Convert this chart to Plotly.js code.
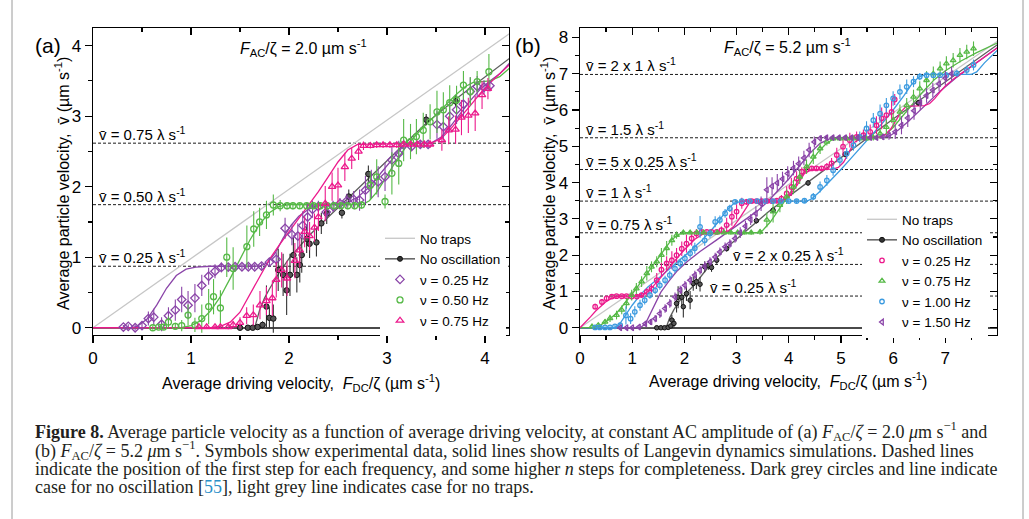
<!DOCTYPE html>
<html><head><meta charset="utf-8">
<script src="https://cdn.plot.ly/plotly-3.0.1.min.js"></script>
<style>html,body{margin:0;padding:0;background:#fff;}#chart{width:1029px;height:519px;}</style>
</head><body><div id="chart"></div>
<script>
// ---------- Panel (a): F_AC/zeta = 2.0 um/s ----------
const aStepLevels = [0.872, 1.745, 2.617];
const aStepLabels = ['0.25', '0.50', '0.75'];
const aNoTraps = [[0, 0], [4.25, 4.17]];
const aSimNoOsc = [[0,0],[1.65,0],[1.70,0.25],[1.75,0.42],[1.80,0.55],[1.90,0.78],[2.00,0.98],[2.20,1.30],[2.50,1.70],[2.80,2.10],[3.00,2.38],[3.40,2.90],[3.70,3.24],[4.00,3.55],[4.25,3.82]];
const aSim025 = [[0,0],[0.40,0],[0.45,0.02],[0.55,0.12],[0.65,0.32],[0.75,0.56],[0.85,0.74],[0.95,0.83],[1.05,0.86],[1.20,0.872],[1.70,0.875],[1.78,0.92],[1.86,1.06],[1.94,1.27],[2.02,1.45],[2.10,1.58],[2.20,1.68],[2.30,1.73],[2.45,1.75],[2.60,1.78],[2.70,1.85],[2.80,1.97],[2.90,2.13],[3.00,2.30],[3.10,2.48],[3.18,2.60],[3.45,2.62],[3.55,2.70],[3.65,2.86],[3.75,3.04],[3.85,3.22],[3.95,3.38],[4.05,3.50],[4.15,3.60],[4.25,3.75]];
const aSim050 = [[0,0],[0.90,0],[1.00,0.03],[1.10,0.10],[1.20,0.24],[1.30,0.44],[1.40,0.70],[1.50,0.97],[1.60,1.24],[1.70,1.47],[1.80,1.63],[1.90,1.72],[2.00,1.745],[2.75,1.745],[2.82,1.80],[2.90,1.93],[3.00,2.15],[3.10,2.38],[3.20,2.58],[3.30,2.74],[3.40,2.88],[3.50,3.02],[3.60,3.16],[3.70,3.30],[3.80,3.42],[3.88,3.48],[4.05,3.50],[4.15,3.56],[4.25,3.68]];
const aSim075 = [[0,0],[1.20,0],[1.30,0.02],[1.40,0.08],[1.50,0.22],[1.60,0.47],[1.70,0.74],[1.80,0.97],[1.90,1.17],[2.00,1.36],[2.10,1.54],[2.20,1.73],[2.30,1.93],[2.40,2.14],[2.50,2.35],[2.60,2.52],[2.70,2.60],[3.45,2.617],[3.55,2.68],[3.65,2.82],[3.75,2.98],[3.85,3.15],[3.95,3.32],[4.05,3.47],[4.15,3.60],[4.25,3.73]];
// experimental points [x, y, error]
const aDataNoOsc = [[1.50,0.0,0.02],[1.58,0.0,0.02],[1.63,0.0,0.02],[1.68,0.01,0.02],[1.73,0.04,0.05],[1.77,0.30,0.3],[1.80,0.14,0.15],[1.84,0.13,0.2],[1.89,0.82,0.3],[1.94,0.75,0.3],[1.976,0.53,0.35],[2.01,0.75,0.3],[2.045,1.03,0.25],[2.08,0.75,0.25],[2.11,0.89,0.25],[2.13,1.03,0.25],[2.18,1.26,0.2],[2.21,1.19,0.2],[2.28,1.21,0.2],[2.33,1.48,0.15],[2.385,1.62,0.15],[2.54,1.63,0.08],[2.61,1.86,0.1],[2.81,2.18,0.12],[3.40,2.95,0.08],[3.70,3.21,0.08]];
const aData025 = [[0.31,0.01,0.03],[0.36,0.02,0.03],[0.43,0.0,0.04],[0.50,0.03,0.05],[0.565,0.13,0.1],[0.62,0.15,0.12],[0.70,0.05,0.1],[0.77,0.17,0.12],[0.84,0.25,0.15],[0.905,0.40,0.18],[0.97,0.32,0.2],[1.04,0.42,0.2],[1.11,0.60,0.15],[1.18,0.73,0.12],[1.245,0.80,0.1],[1.31,0.855,0.07],[1.38,0.86,0.05],[1.45,0.865,0.04],[1.52,0.865,0.04],[1.585,0.865,0.04],[1.65,0.865,0.04],[1.72,0.875,0.04],[1.80,0.93,0.06],[1.87,0.97,0.1],[1.96,1.41,0.15],[2.03,1.32,0.15],[2.09,1.30,0.18],[2.14,1.45,0.2],[2.19,1.57,0.2],[2.24,1.68,0.12],[2.30,1.72,0.08],[2.38,1.64,0.1],[2.45,1.72,0.08],[2.52,1.76,0.08],[2.59,1.80,0.1],[2.66,1.82,0.12],[2.72,1.81,0.15],[2.78,1.95,0.2],[2.84,2.04,0.2],[2.91,2.07,0.22],[2.98,2.14,0.2],[3.05,2.38,0.2],[3.12,2.47,0.18],[3.17,2.59,0.08],[3.25,2.57,0.06],[3.34,2.60,0.05],[3.42,2.60,0.06],[3.51,2.88,0.2],[3.575,2.85,0.2],[3.64,3.0,0.22],[3.71,3.09,0.2],[3.78,3.17,0.2],[3.85,3.35,0.2],[3.92,3.42,0.15],[3.99,3.41,0.1],[4.05,3.43,0.08]];
const aData050 = [[0.61,0.0,0.03],[0.67,0.01,0.03],[0.72,0.01,0.04],[0.77,0.08,0.08],[0.84,0.02,0.05],[0.905,0.03,0.08],[0.97,0.18,0.15],[1.04,0.04,0.1],[1.11,0.13,0.2],[1.18,0.30,0.25],[1.23,0.44,0.25],[1.30,0.28,0.25],[1.365,1.0,0.28],[1.43,0.84,0.3],[1.57,1.15,0.3],[1.64,1.40,0.25],[1.70,1.50,0.2],[1.77,1.60,0.2],[1.84,1.74,0.15],[1.91,1.73,0.08],[1.98,1.73,0.05],[2.04,1.73,0.05],[2.11,1.73,0.04],[2.18,1.73,0.04],[2.25,1.73,0.04],[2.32,1.73,0.04],[2.39,1.73,0.04],[2.46,1.73,0.04],[2.53,1.73,0.04],[2.60,1.73,0.05],[2.67,1.73,0.05],[2.74,1.74,0.05],[2.83,2.02,0.2],[2.895,2.14,0.25],[2.98,1.79,0.1],[3.05,2.19,0.3],[3.12,2.33,0.3],[3.17,2.66,0.3],[3.24,2.64,0.25],[3.30,2.71,0.25],[3.37,2.80,0.25],[3.44,2.92,0.25],[3.51,3.06,0.3],[3.575,3.09,0.25],[3.64,3.19,0.25],[3.71,3.23,0.2],[3.78,3.44,0.2],[3.85,3.35,0.2],[3.92,3.49,0.15],[4.04,3.63,0.25]];
const aData075 = [[1.08,0.01,0.02],[1.16,0.01,0.02],[1.245,0.01,0.02],[1.30,0.01,0.02],[1.38,0.01,0.03],[1.43,0.04,0.05],[1.50,0.07,0.08],[1.568,0.17,0.12],[1.636,0.18,0.15],[1.704,0.32,0.2],[1.77,0.38,0.2],[1.83,0.42,0.25],[1.87,0.68,0.25],[1.925,0.82,0.25],[1.98,0.70,0.25],[2.06,0.95,0.25],[2.11,1.10,0.25],[2.16,1.36,0.22],[2.21,1.30,0.2],[2.26,1.42,0.2],[2.30,1.57,0.2],[2.37,1.76,0.25],[2.44,2.0,0.2],[2.50,2.02,0.25],[2.57,2.28,0.2],[2.64,2.40,0.15],[2.71,2.50,0.12],[2.76,2.58,0.06],[2.83,2.58,0.04],[2.895,2.59,0.04],[2.96,2.59,0.04],[3.03,2.59,0.04],[3.10,2.59,0.04],[3.17,2.60,0.04],[3.24,2.60,0.04],[3.31,2.60,0.04],[3.38,2.60,0.05],[3.44,2.60,0.05],[3.56,2.66,0.15],[3.63,2.80,0.2],[3.70,2.81,0.2],[3.76,2.98,0.25],[3.83,3.01,0.25],[3.90,3.04,0.25],[3.97,3.30,0.2],[4.03,3.39,0.15]];

// ---------- Panel (b): F_AC/zeta = 5.2 um/s ----------
const bStepLevels = [0.873, 1.745, 2.617, 3.49, 4.36, 5.235, 6.98];
const bStepLabels = ['0.25', '2 x 0.25', '0.75', '1', '5 x 0.25', '1.5', '2 x 1'];
const bNoTraps = [[0, 0], [8, 7.9]];
const bSimNoOsc = [[0,0],[1.65,0],[1.72,0.28],[1.80,0.50],[1.90,0.72],[2.00,0.90],[2.20,1.20],[2.50,1.75],[2.80,2.20],[3.20,2.70],[3.60,3.18],[4.00,3.62],[4.50,4.15],[5.00,4.70],[5.50,5.22],[6.00,5.75],[6.50,6.26],[7.00,6.78],[7.50,7.30],[8.00,7.80]];
const bSim025 = [[0,0],[0.10,0.14],[0.20,0.30],[0.30,0.46],[0.40,0.60],[0.50,0.72],[0.60,0.81],[0.70,0.86],[0.85,0.873],[1.10,0.873],[1.20,0.90],[1.30,1.00],[1.40,1.14],[1.50,1.30],[1.60,1.47],[1.80,1.82],[2.00,2.15],[2.20,2.44],[2.35,2.58],[2.50,2.62],[2.75,2.63],[2.85,2.68],[2.95,2.80],[3.05,3.00],[3.15,3.24],[3.25,3.45],[3.80,3.49],[3.90,3.52],[4.00,3.62],[4.10,3.80],[4.20,4.02],[4.30,4.25],[4.45,4.36],[4.85,4.37],[4.95,4.42],[5.05,4.56],[5.15,4.82],[5.25,5.10],[5.40,5.24],[5.75,5.26],[5.85,5.32],[5.95,5.47],[6.05,5.70],[6.15,5.95],[6.25,6.10],[6.60,6.12],[6.70,6.18],[6.80,6.32],[6.90,6.50],[7.00,6.66],[7.20,6.90],[7.50,7.20],[8.00,7.72]];
const bSim075 = [[0,0],[0.25,0.01],[0.40,0.08],[0.55,0.22],[0.70,0.40],[0.85,0.65],[1.00,0.93],[1.15,1.22],[1.30,1.52],[1.45,1.80],[1.60,2.12],[1.75,2.42],[1.90,2.58],[2.05,2.62],[3.40,2.62],[3.50,2.68],[3.65,2.92],[3.80,3.22],[3.95,3.55],[4.10,3.88],[4.25,4.20],[4.40,4.52],[4.55,4.82],[4.70,5.05],[4.85,5.20],[5.00,5.24],[5.70,5.24],[5.85,5.32],[6.00,5.52],[6.15,5.78],[6.30,6.05],[6.45,6.30],[6.60,6.55],[6.80,6.85],[7.00,7.08],[7.30,7.35],[7.60,7.58],[8.00,7.85]];
const bSim100 = [[0,0],[0.65,0],[0.75,0.08],[0.85,0.30],[1.00,0.62],[1.15,0.90],[1.30,1.12],[1.50,1.36],[1.70,1.60],[1.90,1.84],[2.10,2.10],[2.30,2.36],[2.50,2.66],[2.65,2.92],[2.80,3.22],[2.95,3.43],[3.10,3.49],[4.35,3.49],[4.45,3.56],[4.60,3.76],[4.80,4.05],[5.00,4.36],[5.20,4.68],[5.40,5.00],[5.60,5.32],[5.80,5.65],[6.00,6.00],[6.20,6.38],[6.35,6.70],[6.50,6.92],[6.65,6.98],[7.50,6.98],[7.60,7.05],[7.75,7.30],[8.00,7.65]];
const bSim150 = [[0,0],[1.15,0],[1.25,0.10],[1.35,0.40],[1.45,0.72],[1.55,0.98],[1.70,1.28],[1.85,1.55],[2.05,1.82],[2.30,2.10],[2.60,2.40],[2.90,2.70],[3.20,3.00],[3.40,3.22],[3.60,3.48],[3.80,3.78],[4.00,4.10],[4.20,4.45],[4.40,4.80],[4.60,5.08],[4.80,5.22],[5.00,5.24],[5.80,5.24],[5.95,5.30],[6.10,5.45],[6.30,5.70],[6.50,5.98],[6.70,6.25],[6.90,6.52],[7.20,6.88],[7.60,7.30],[8.00,7.72]];
const bDataNoOsc = [[1.47,0.0,0.02],[1.55,0.0,0.02],[1.62,0.0,0.02],[1.69,0.01,0.03],[1.74,0.05,0.06],[1.76,0.21,0.15],[1.80,0.12,0.12],[1.85,0.67,0.25],[1.88,0.84,0.3],[1.95,0.84,0.25],[1.98,0.58,0.3],[2.04,0.94,0.2],[2.11,0.76,0.25],[2.17,1.22,0.2],[2.23,1.27,0.2],[2.30,1.20,0.2],[2.39,1.68,0.15],[2.46,1.72,0.12],[2.52,1.66,0.12],[2.62,1.86,0.1],[2.81,2.18,0.08],[3.38,2.95,0.08],[3.70,3.24,0.08],[4.37,3.99,0.08],[5.08,4.78,0.08],[6.48,6.20,0.08]];
const bData025 = [[0.29,0.58,0.08],[0.42,0.71,0.08],[0.51,0.81,0.06],[0.61,0.86,0.05],[0.70,0.87,0.04],[0.80,0.87,0.04],[0.89,0.87,0.04],[0.99,0.86,0.04],[1.09,0.86,0.05],[1.18,0.90,0.06],[1.28,0.99,0.1],[1.37,1.08,0.12],[1.47,1.31,0.2],[1.56,1.60,0.2],[1.66,1.77,0.2],[1.76,1.86,0.25],[1.85,2.00,0.2],[1.95,2.18,0.2],[2.04,2.32,0.25],[2.14,2.46,0.2],[2.23,2.60,0.12],[2.33,2.64,0.06],[2.43,2.64,0.05],[2.52,2.64,0.05],[2.62,2.64,0.05],[2.71,2.69,0.1],[2.81,2.83,0.2],[2.91,3.06,0.25],[3.00,3.20,0.2],[3.10,3.43,0.15],[3.19,3.47,0.08],[3.29,3.49,0.05],[3.38,3.49,0.05],[3.48,3.49,0.05],[3.58,3.49,0.05],[3.67,3.49,0.05],[3.77,3.50,0.06],[3.86,3.56,0.1],[3.96,3.70,0.2],[4.05,3.88,0.25],[4.15,4.11,0.2],[4.25,4.30,0.12],[4.34,4.36,0.08],[4.44,4.39,0.06],[4.53,4.39,0.06],[4.63,4.39,0.06],[4.73,4.44,0.1],[4.82,4.53,0.15],[4.92,4.76,0.2],[5.04,4.99,0.25],[5.17,5.17,0.2],[5.30,5.26,0.15],[5.43,5.31,0.15],[5.56,5.40,0.2],[5.68,5.58,0.25],[5.78,5.77,0.3],[5.87,5.86,0.3],[5.97,5.95,0.3],[6.03,6.29,0.15]];
const bData075 = [[0.23,0.03,0.05],[0.35,0.07,0.06],[0.48,0.16,0.08],[0.575,0.26,0.1],[0.70,0.35,0.12],[0.80,0.49,0.12],[0.89,0.67,0.15],[0.99,0.90,0.15],[1.08,1.08,0.15],[1.18,1.27,0.15],[1.28,1.50,0.2],[1.37,1.68,0.15],[1.47,1.82,0.15],[1.56,2.00,0.2],[1.66,2.19,0.2],[1.76,2.41,0.15],[1.85,2.55,0.1],[1.98,2.62,0.06],[2.11,2.62,0.05],[2.24,2.62,0.05],[2.37,2.62,0.05],[2.50,2.62,0.05],[2.63,2.62,0.05],[2.76,2.62,0.05],[2.89,2.62,0.05],[3.02,2.62,0.05],[3.15,2.62,0.05],[3.28,2.62,0.06],[3.45,2.64,0.08],[3.58,2.97,0.2],[3.70,3.20,0.3],[3.83,3.38,0.2],[3.96,3.61,0.2],[4.09,3.88,0.2],[4.21,4.16,0.2],[4.34,4.44,0.2],[4.47,4.71,0.2],[4.60,4.94,0.15],[4.73,5.12,0.1],[4.85,5.21,0.06],[4.98,5.21,0.05],[5.11,5.21,0.05],[5.24,5.21,0.05],[5.36,5.21,0.05],[5.49,5.21,0.05],[5.62,5.24,0.08],[5.75,5.35,0.15],[5.87,5.53,0.2],[6.00,5.72,0.2],[6.13,5.95,0.2],[6.26,6.13,0.2],[6.39,6.36,0.2],[6.51,6.59,0.2],[6.64,6.82,0.25],[6.77,7.00,0.2],[6.90,7.14,0.2],[7.02,7.28,0.2],[7.15,7.37,0.2],[7.28,7.51,0.2],[7.41,7.60,0.2],[7.54,7.69,0.2]];
const bData100 = [[0.29,0.01,0.03],[0.38,0.01,0.03],[0.48,0.01,0.03],[0.575,0.01,0.03],[0.67,0.04,0.05],[0.77,0.07,0.08],[0.88,0.34,0.25],[0.97,0.25,0.15],[1.05,0.44,0.15],[1.15,0.62,0.15],[1.24,0.76,0.12],[1.34,0.90,0.1],[1.44,1.03,0.1],[1.53,1.17,0.12],[1.63,1.31,0.12],[1.72,1.45,0.12],[1.82,1.63,0.12],[1.92,1.77,0.12],[2.01,1.91,0.12],[2.11,2.05,0.12],[2.20,2.19,0.15],[2.30,2.78,0.3],[2.39,2.41,0.15],[2.49,2.60,0.12],[2.59,2.92,0.15],[2.68,2.97,0.12],[2.78,3.15,0.12],[2.87,3.29,0.1],[2.97,3.47,0.06],[3.10,3.49,0.05],[3.25,3.49,0.04],[3.40,3.49,0.04],[3.55,3.49,0.04],[3.70,3.49,0.04],[3.85,3.49,0.04],[4.00,3.49,0.05],[4.15,3.49,0.05],[4.30,3.50,0.06],[4.47,3.61,0.1],[4.60,3.88,0.15],[4.73,4.06,0.15],[4.85,4.34,0.15],[4.98,4.62,0.15],[5.11,4.80,0.15],[5.24,5.03,0.15],[5.36,5.26,0.15],[5.49,5.49,0.2],[5.62,5.72,0.2],[5.75,5.90,0.25],[5.87,6.13,0.2],[6.00,6.32,0.2],[6.13,6.50,0.2],[6.26,6.64,0.2],[6.39,6.78,0.15],[6.51,6.92,0.1],[6.64,6.96,0.06],[6.77,6.96,0.06],[6.90,6.96,0.06],[7.02,6.96,0.08],[7.22,7.01,0.1],[7.41,7.10,0.12],[7.54,7.24,0.15]];
const bData150 = [[0.77,0.0,0.02],[0.89,0.0,0.02],[1.00,0.0,0.02],[1.13,0.02,0.03],[1.25,0.11,0.06],[1.35,0.16,0.08],[1.44,0.25,0.1],[1.53,0.39,0.12],[1.63,0.53,0.12],[1.72,0.67,0.12],[1.82,0.85,0.12],[1.92,1.04,0.12],[2.01,1.17,0.12],[2.11,1.31,0.12],[2.20,1.45,0.12],[2.30,1.59,0.12],[2.39,1.70,0.12],[2.49,1.82,0.12],[2.59,1.95,0.12],[2.68,2.09,0.12],[2.78,2.23,0.12],[2.87,2.32,0.12],[2.97,2.46,0.12],[3.07,2.62,0.15],[3.17,2.80,0.15],[3.27,2.98,0.15],[3.37,3.15,0.2],[3.47,3.42,0.2],[3.58,3.80,0.35],[3.68,3.90,0.25],[3.78,3.99,0.25],[3.88,4.10,0.2],[3.98,4.25,0.2],[4.09,4.40,0.2],[4.19,4.52,0.2],[4.29,4.68,0.2],[4.39,4.90,0.2],[4.49,5.12,0.15],[4.60,5.22,0.08],[4.72,5.24,0.06],[4.84,5.24,0.06],[4.96,5.24,0.06],[5.08,5.24,0.06],[5.20,5.24,0.06],[5.32,5.24,0.06],[5.44,5.24,0.06],[5.56,5.24,0.06],[5.68,5.24,0.06],[5.80,5.26,0.08],[5.92,5.30,0.12],[6.04,5.40,0.2],[6.16,5.58,0.25],[6.28,5.78,0.25],[6.40,5.98,0.25],[6.52,6.20,0.2],[6.64,6.40,0.2],[6.76,6.55,0.2],[6.88,6.72,0.2],[7.00,6.88,0.2],[7.12,7.00,0.2]];

const tickValsA = [0, 1, 2, 3, 4];
const tickValsB = [0, 1, 2, 3, 4, 5, 6, 7, 8];

// ---------- styles ----------
const SANS = 'Liberation Sans, Arial, sans-serif';
const SERIF = 'Liberation Serif, Times New Roman, serif';
const C = {purple:'#8a44a8', green:'#56b947', pink:'#ec1a8c', blue:'#3c9be0', dark:'#333333', simDark:'#5e5e5e', noTraps:'#c6c6c6'};
const W = 1029, H = 519;
const px = v => v / W, py = v => 1 - v / H;

const col = (l, i) => l.map(p => p[i]);
function line(list, color, xa, ya, opts) {
  return Object.assign({type:'scatter', mode:'lines', x:col(list,0), y:col(list,1), xaxis:xa, yaxis:ya,
    line:{color:color, width:1.3}, showlegend:false, hoverinfo:'skip'}, opts || {});
}
function pointsTrace(list, color, symbol, size, xa, ya, name, lg, show) {
  return {type:'scatter', mode:'markers', x:col(list,0), y:col(list,1), xaxis:xa, yaxis:ya, name:name, legend:lg,
    showlegend:show, hoverinfo:'skip',
    error_y:{type:'data', array:col(list,2), visible:true, color:color, thickness:1.1, width:0},
    marker:{symbol:symbol, size:size, color:color, line:{color:color, width:1.3}}};
}
function stepLines(levels, xmax, xa, ya) {
  return levels.map(v => ({type:'scatter', mode:'lines', x:[0, xmax], y:[v, v], xaxis:xa, yaxis:ya,
    line:{color:'#1a1a1a', width:1, dash:'3px,2px'}, showlegend:false, hoverinfo:'skip'}));
}
function noOscLegend(lg) {
  return {type:'scatter', mode:'lines+markers', x:[null], y:[null], name:'No oscillation', legend:lg,
    line:{color:C.simDark, width:1.5}, marker:{symbol:'circle', size:5, color:C.dark, line:{color:'#111', width:1}}};
}

const traces = [].concat(
  stepLines(aStepLevels, 4.25, 'x', 'y'),
  [line(aNoTraps, C.noTraps, 'x', 'y', {showlegend:true, name:'No traps', legend:'legend'}),
   line(aSimNoOsc, C.simDark, 'x', 'y'),
   line(aSim025, C.purple, 'x', 'y'),
   line(aSim050, C.green, 'x', 'y'),
   line(aSim075, C.pink, 'x', 'y'),
   noOscLegend('legend'),
   Object.assign(pointsTrace(aDataNoOsc, C.dark, 'circle', 5.5, 'x', 'y', 'No oscillation data', 'legend', false),
     {marker:{symbol:'circle', size:5.5, color:'#555', line:{color:'#111', width:1}}}),
   pointsTrace(aData025, C.purple, 'diamond-open', 6.5, 'x', 'y', 'ν = 0.25 Hz', 'legend', true),
   pointsTrace(aData050, C.green, 'circle-open', 6, 'x', 'y', 'ν = 0.50 Hz', 'legend', true),
   pointsTrace(aData075, C.pink, 'triangle-up-open', 6.5, 'x', 'y', 'ν = 0.75 Hz', 'legend', true)],
  stepLines(bStepLevels, 8, 'x2', 'y2'),
  [line(bNoTraps, C.noTraps, 'x2', 'y2', {showlegend:true, name:'No traps', legend:'legend2'}),
   line(bSimNoOsc, C.simDark, 'x2', 'y2'),
   line(bSim150, C.purple, 'x2', 'y2'),
   line(bSim100, C.blue, 'x2', 'y2'),
   line(bSim075, C.green, 'x2', 'y2'),
   line(bSim025, C.pink, 'x2', 'y2'),
   noOscLegend('legend2'),
   Object.assign(pointsTrace(bDataNoOsc, C.dark, 'circle', 4.5, 'x2', 'y2', 'No oscillation data', 'legend2', false),
     {marker:{symbol:'circle', size:4.5, color:'#555', line:{color:'#111', width:1}}}),
   pointsTrace(bData025, C.pink, 'circle-open', 4.5, 'x2', 'y2', 'ν = 0.25 Hz', 'legend2', true),
   pointsTrace(bData075, C.green, 'triangle-up-open', 5, 'x2', 'y2', 'ν = 0.75 Hz', 'legend2', true),
   pointsTrace(bData100, C.blue, 'circle-open', 4.5, 'x2', 'y2', 'ν = 1.00 Hz', 'legend2', true),
   pointsTrace(bData150, C.purple, 'triangle-left-open', 5, 'x2', 'y2', 'ν = 1.50 Hz', 'legend2', true)],
  [{type:'scatter', x:[null], y:[null], xaxis:'x3', yaxis:'y3', showlegend:false, hoverinfo:'skip'},
   {type:'scatter', x:[null], y:[null], xaxis:'x4', yaxis:'y4', showlegend:false, hoverinfo:'skip'}]
);

const tickFont = {family:SANS, size:17, color:'#000'};
function mainAxis(domain, range, tv, isY) {
  return {domain:domain, range:range, autorange:false, fixedrange:true, showgrid:false,
    showline:true, linecolor:'#000', linewidth:1.3, mirror:true,
    ticks:'outside', ticklen:7, tickwidth:1.2, tickcolor:'#000', tickfont:tickFont,
    tickmode:'array', tickvals:tv, ticktext:tv.map(String),
    minor:{tickmode:'linear', tick0:0, dtick:0.5, ticks:'outside', ticklen:4, tickwidth:1.2, tickcolor:'#000', showgrid:false},
    zeroline:!!isY, zerolinecolor:'#4a4a4a', zerolinewidth:1.6};
}
function mirrorAxis(over, anchor, side, range) {
  return {overlaying:over, anchor:anchor, side:side, range:range, autorange:false, fixedrange:true,
    showgrid:false, showline:false, zeroline:false, showticklabels:false,
    ticks:'inside', ticklen:7, tickwidth:1.2, tickcolor:'#000', tickmode:'linear', tick0:0, dtick:1,
    minor:{tickmode:'linear', tick0:0, dtick:0.5, ticks:'inside', ticklen:4, tickwidth:1.2, tickcolor:'#000', showgrid:false}};
}
const yDom = [py(335), py(28)];
const aX = [0, 4.245], aY = [-0.103, 4.25];
const bX = [0, 7.99], bY = [-0.2, 8.26];

const ann = [];
function A(o) { ann.push(Object.assign({showarrow:false, font:{family:SANS, size:15, color:'#000'}}, o)); }
const vbar = 'v\u0304';
// step labels panel (a)
aStepLevels.forEach((v, i) =>
  A({xref:'x', yref:'y', x:0.04, y:v, xanchor:'left', yanchor:'bottom', yshift:-2, text:vbar + ' = ' + aStepLabels[i] + ' λ s<sup>-1</sup>'}));
// step labels panel (b)
const bLabelPos = {'2 x 1':0.08, '1.5':0.08, '5 x 0.25':0.08, '1':0.08, '0.75':0.08, '2 x 0.25':2.9, '0.25':2.46};
bStepLevels.forEach((v, i) => {
  const t = bStepLabels[i];
  A({xref:'x2', yref:'y2', x:bLabelPos[t], y:v, xanchor:'left', yanchor:'bottom', yshift:-2, text:vbar + ' = ' + t + ' λ s<sup>-1</sup>'});
});
// panel letters and titles
A({xref:'paper', yref:'paper', x:px(33), y:py(45), xanchor:'left', yanchor:'middle', text:'(a)', font:{family:SANS, size:21, color:'#000'}});
A({xref:'paper', yref:'paper', x:px(513), y:py(45), xanchor:'left', yanchor:'middle', text:'(b)', font:{family:SANS, size:21, color:'#000'}});
A({xref:'paper', yref:'paper', x:px(238), y:py(48), xanchor:'left', yanchor:'middle', text:'<i>F</i><sub>AC</sub>/ζ = 2.0 µm s<sup>-1</sup>', font:{family:SANS, size:16, color:'#000'}});
A({xref:'paper', yref:'paper', x:px(722), y:py(47), xanchor:'left', yanchor:'middle', text:'<i>F</i><sub>AC</sub>/ζ = 5.2 µm s<sup>-1</sup>', font:{family:SANS, size:16, color:'#000'}});
// axis titles
const yTitle = 'Average particle velocity,\u00a0\u00a0' + vbar + ' (µm s<sup>-1</sup>)';
const xTitle = 'Average driving velocity,\u00a0\u00a0<i>F</i><sub>DC</sub>/ζ (µm s<sup>-1</sup>)';
A({xref:'paper', yref:'paper', x:px(62), y:py(184), textangle:-90, xanchor:'center', yanchor:'middle', text:yTitle, font:{family:SANS, size:16, color:'#000'}});
A({xref:'paper', yref:'paper', x:px(548), y:py(184), textangle:-90, xanchor:'center', yanchor:'middle', text:yTitle, font:{family:SANS, size:16, color:'#000'}});
A({xref:'paper', yref:'paper', x:px(301), y:py(383), xanchor:'center', yanchor:'middle', text:xTitle, font:{family:SANS, size:16, color:'#000'}});
A({xref:'paper', yref:'paper', x:px(788), y:py(381), xanchor:'center', yanchor:'middle', text:xTitle, font:{family:SANS, size:16, color:'#000'}});
// caption
const captionLines = [
  '<b>Figure 8.</b> Average particle velocity as a function of average driving velocity, at constant AC amplitude of (a) <i>F</i><sub>AC</sub>/<i>ζ</i> = 2.0 <i>μ</i>m s<sup>−1</sup> and',
  '(b) <i>F</i><sub>AC</sub>/<i>ζ</i> = 5.2 <i>μ</i>m s<sup>−1</sup>. Symbols show experimental data, solid lines show results of Langevin dynamics simulations. Dashed lines',
  'indicate the position of the first step for each frequency, and some higher <i>n</i> steps for completeness. Dark grey circles and line indicate',
  'case for no oscillation [<span style="color:#2a8fc8">55</span>], light grey line indicates case for no traps.'
];
const captionY = [446, 464.5, 481, 498.5];
captionLines.forEach((t, i) => A({xref:'paper', yref:'paper', x:px(33), y:py(captionY[i]), xanchor:'left', yanchor:'bottom', text:t,
  font:{family:SERIF, size:18, color:'#231f20'}}));

const legendBase = {bgcolor:'#ffffff', borderwidth:0, font:{family:SANS, size:13.5, color:'#000'}, xanchor:'left', yanchor:'top', tracegroupgap:0, itemwidth:30, traceorder:'normal'};

const layout = {
  width:W, height:H, margin:{l:0, r:0, t:0, b:0}, paper_bgcolor:'#fff', plot_bgcolor:'rgba(0,0,0,0)',
  showlegend:true,
  xaxis: mainAxis([px(93), px(509)], aX, tickValsA, false),
  yaxis: mainAxis(yDom, aY, tickValsA, true),
  xaxis2: Object.assign(mainAxis([px(580), px(997)], bX, tickValsB, false), {anchor:'y2'}),
  yaxis2: Object.assign(mainAxis(yDom, bY, tickValsB, true), {anchor:'x2'}),
  xaxis3: mirrorAxis('x', 'y3', 'top', aX),
  yaxis3: mirrorAxis('y', 'x3', 'right', aY),
  xaxis4: mirrorAxis('x2', 'y4', 'top', bX),
  yaxis4: mirrorAxis('y2', 'x4', 'right', bY),
  legend: Object.assign({}, legendBase, {x:px(380), y:py(223)}),
  legend2: Object.assign({}, legendBase, {x:px(862), y:py(204)}),
  annotations: ann,
  shapes: [
    {type:'line', xref:'paper', yref:'paper', x0:px(12), x1:px(12), y0:0, y1:1, line:{color:'#9a9a9a', width:1}},
    {type:'line', xref:'paper', yref:'paper', x0:px(1023), x1:px(1023), y0:0, y1:1, line:{color:'#9a9a9a', width:1}}
  ]
};
layout.xaxis.anchor = 'y';
layout.yaxis.anchor = 'x';

Plotly.newPlot('chart', traces, layout, {staticPlot:true, displayModeBar:false});
</script></body></html>
